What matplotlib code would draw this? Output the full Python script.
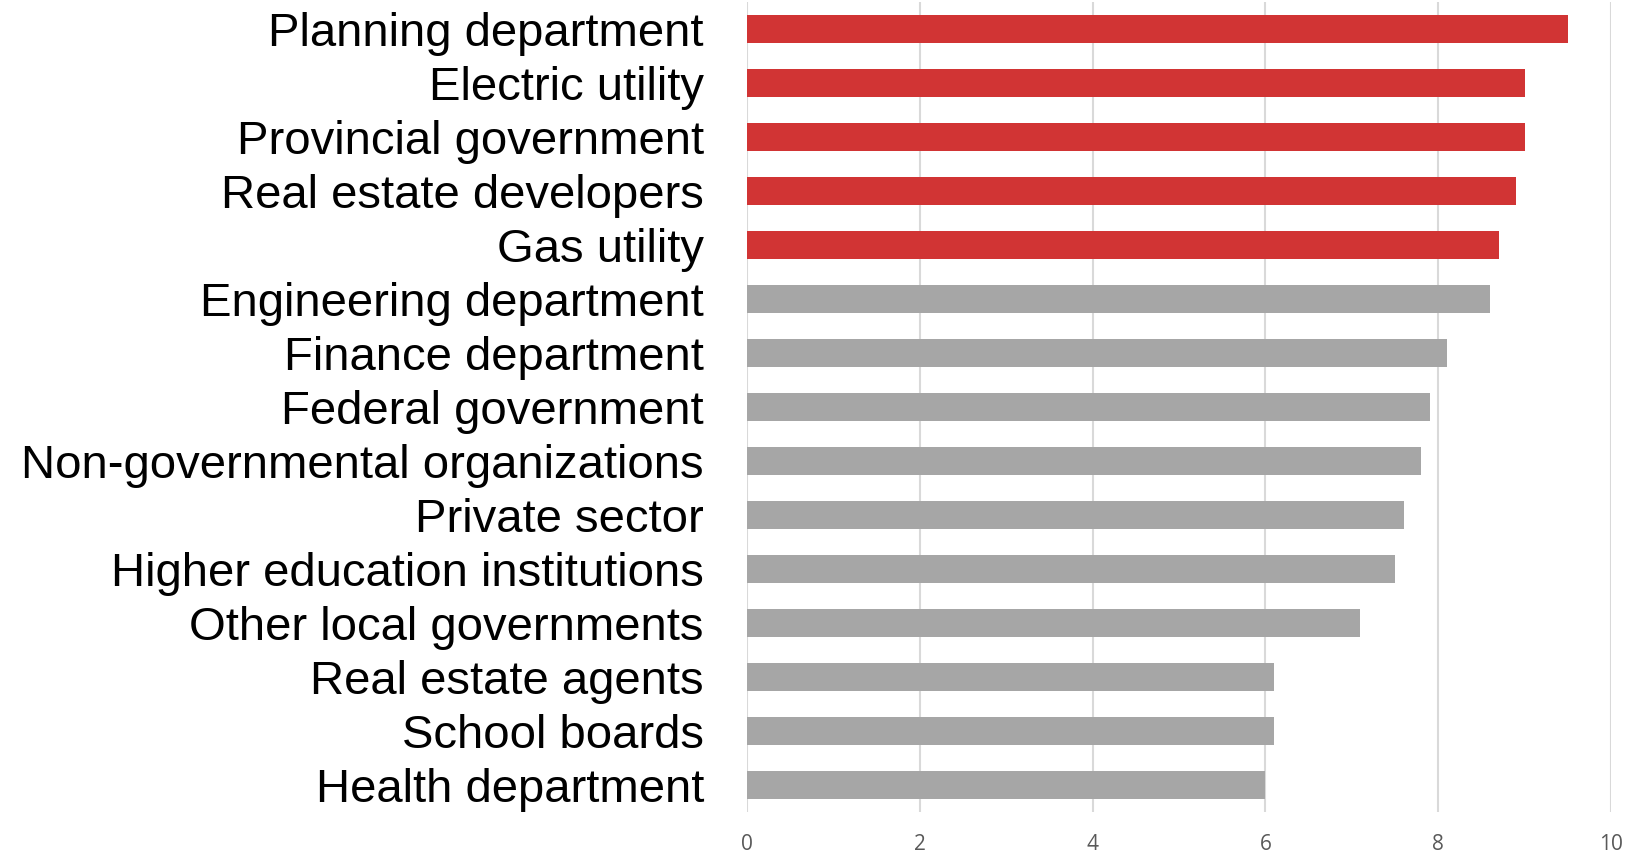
#!/usr/bin/env python3
"""
Horizontal bar chart of stakeholder ratings
"""

import matplotlib
matplotlib.use('Agg')
import matplotlib.pyplot as plt
import numpy as np

plt.rcParams['font.family'] = ['Liberation Sans', 'DejaVu Sans']

# Data (top to bottom as shown)
categories = ['Planning department', 'Electric utility', 'Provincial government',
              'Real estate developers', 'Gas utility', 'Engineering department',
              'Finance department', 'Federal government',
              'Non-governmental organizations', 'Private sector',
              'Higher education institutions', 'Other local governments',
              'Real estate agents', 'School boards', 'Health department']
values = [9.5, 9.0, 9.0, 8.9, 8.7, 8.6, 8.1, 7.9, 7.8, 7.6, 7.5, 7.1, 6.1, 6.1, 6.0]
highlighted = [True] * 5 + [False] * 10
x_ticks = [0, 2, 4, 6, 8, 10]

RED = '#D13434'
GREY = '#A6A6A6'

fig = plt.figure(figsize=(16.35, 8.55), dpi=100)
ax = fig.add_axes([747 / 1635, 1 - 812 / 855, (1611 - 747) / 1635, 810 / 855])

y = np.arange(len(categories))
colors = [RED if h else GREY for h in highlighted]
ax.barh(y, values, height=0.52, color=colors, zorder=3)

ax.set_ylim(len(categories) - 0.5, -0.5)
ax.set_xlim(0, 10)
ax.set_yticks(y)
ax.set_yticklabels(categories, fontsize=34, color='black')
ax.set_xticks(x_ticks)
ax.set_xticklabels([str(t) for t in x_ticks], fontsize=15, family='Open Sans', color='#595959')
ax.tick_params(axis='y', length=0, pad=31)
ax.tick_params(axis='x', length=0, pad=16)

ax.grid(axis='x', color='#D9D9D9', linewidth=1.5, zorder=0)
for s in ax.spines.values():
    s.set_visible(False)

plt.savefig('out.png', dpi=100)
plt.close()
print("Saved: out.png")
